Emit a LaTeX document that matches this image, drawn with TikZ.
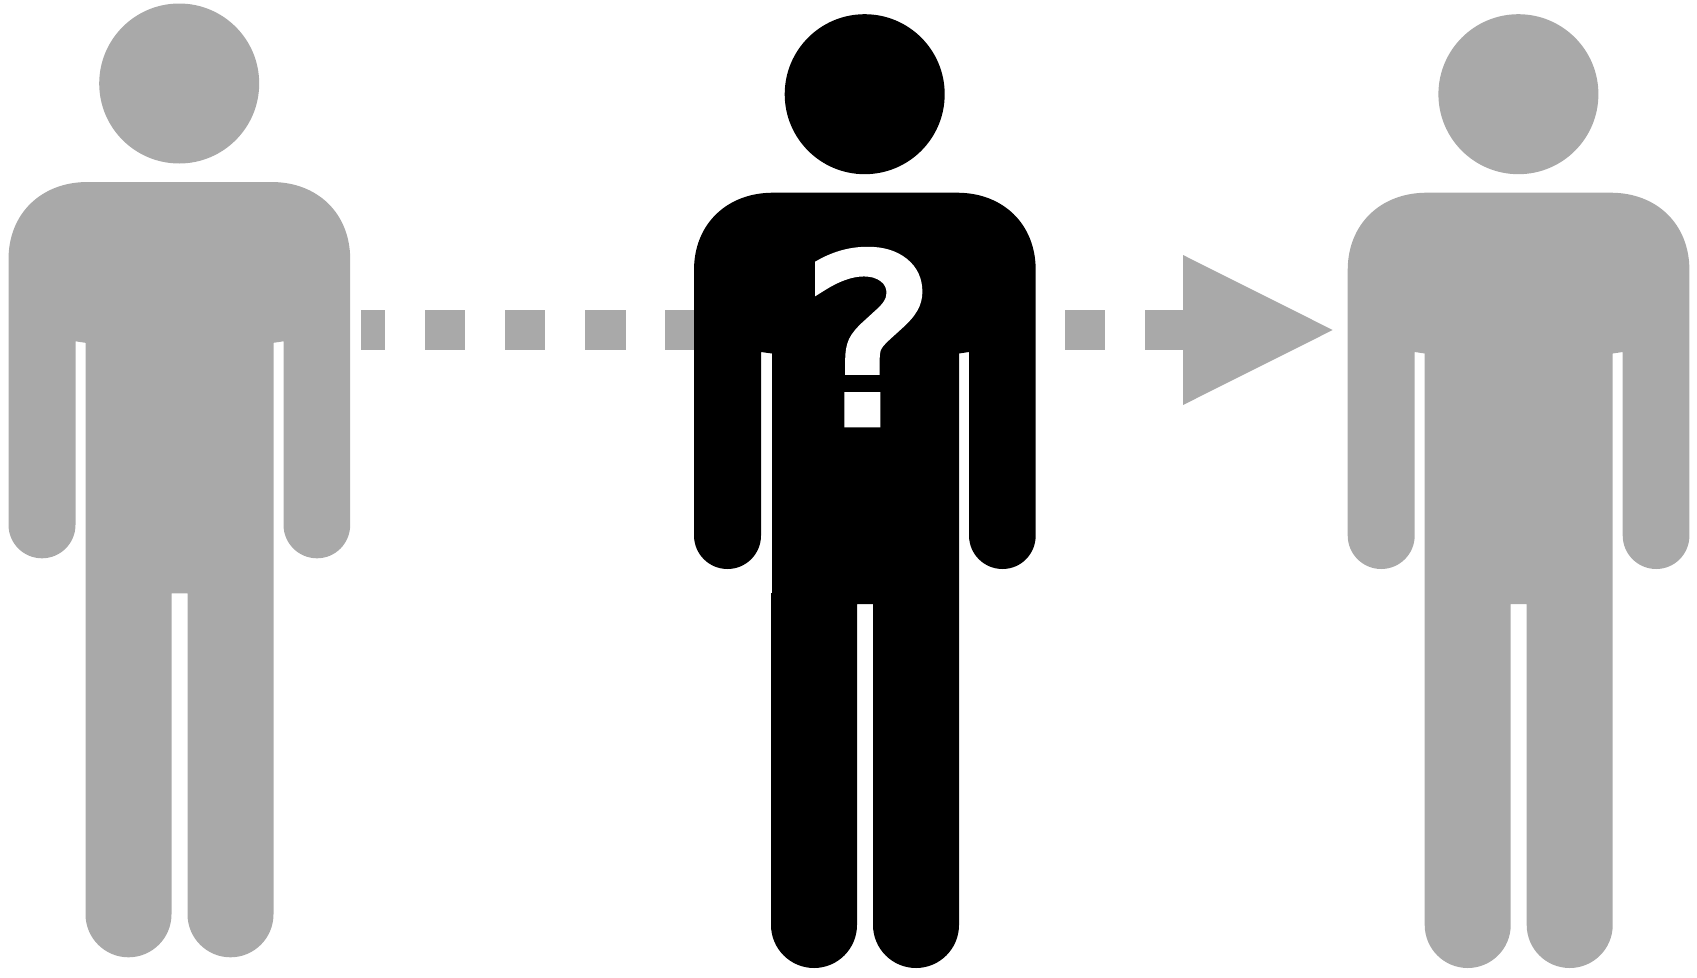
\documentclass[tikz,border=0pt]{standalone}
\usepackage{fontspec}
\newfontfamily\qfont[FakeBold=5,FakeStretch=1.08]{DejaVu Sans}
\definecolor{figgray}{HTML}{A9A9A9}
\tikzset{
  personfill/.style={fill=#1,draw=none},
  headdot/.style={circle,fill=#1,draw=none,inner sep=0pt,minimum size=160pt},
  dashpiece/.style={fill=figgray,draw=none}
}
\newcommand{\personbody}[3]{%
  \node[headdot=#1] (head#2) at (864.7,94.2) {};
  \fill[personfill=#1] (773,192.7) -- (957,192.7)
    .. controls (1003,192.7) and (1035.7,224) .. (1035.7,270)
    -- (1035.7,535.5)
    .. controls (1035.7,554) and (1021,569) .. (1002.5,569)
    .. controls (984,569) and (969,554) .. (969,535.5)
    -- (969,352) -- (959,353.5) -- (959,925)
    .. controls (959,948.7) and (939.7,968) .. (916,968)
    .. controls (892.3,968) and (873,948.7) .. (873,925)
    -- (873,604) -- (857,604) -- (857,925)
    .. controls (857,948.7) and (837.7,968) .. (814,968)
    .. controls (790.3,968) and (771,948.7) .. (771,925)
    -- (771,593) -- (#3,593) -- (#3,353.5) -- (761,352) -- (761,535.5)
    .. controls (761,554) and (746,569) .. (727.5,569)
    .. controls (709,569) and (694,554) .. (694,535.5)
    -- (694,270)
    .. controls (694,224) and (727,192.7) .. (773,192.7) -- cycle;%
}
\begin{document}
\begin{tikzpicture}[x=1pt,y=-1pt]
  \useasboundingbox (0,0) rectangle (1697,977);
  % dashed arrow
  \foreach \a/\b in {360.7/385.2,424.8/465.4,504.8/544.6,584.8/625.6,664.8/700,1065/1105,1145/1185}
    \fill[dashpiece] (\a,310) rectangle (\b,350.3);
  \coordinate (tipa) at (1183,255);
  \coordinate (tipb) at (1332.7,330);
  \coordinate (tipc) at (1183,405);
  \fill[dashpiece] (tipa) -- (tipb) -- (tipc) -- cycle;
  % figures
  \begin{scope}[shift={(-685.5,-10.7)}]
    \personbody{figgray}{L}{771}
  \end{scope}
  \personbody{black}{M}{772}
  \begin{scope}[shift={(653.7,0)}]
    \personbody{figgray}{R}{771}
  \end{scope}
  % question mark
  \node[anchor=base,inner sep=0pt,text=white,font=\qfont\fontsize{228pt}{228pt}\selectfont] (qmark) at (868.5,421.7) {?};
  % widen the gap between the stem and the dot of the question mark
  \fill[black] (835,375) rectangle (895,391.5);
\end{tikzpicture}
\end{document}
